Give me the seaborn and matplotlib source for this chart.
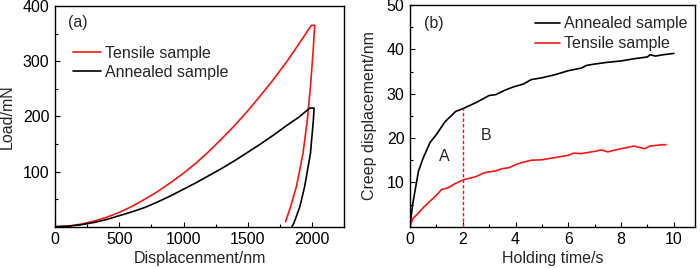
import numpy as np
import pandas as pd
import seaborn as sns
import matplotlib.pyplot as plt
from matplotlib.ticker import MultipleLocator

# --- (a) load vs displacement (loading, hold, unloading) ---
tens_disp = [0, 100, 200, 300, 400, 500, 600, 700, 800, 900, 1000, 1100, 1200, 1300,
             1400, 1500, 1600, 1700, 1800, 1900, 1995, 2021, 2008, 1988, 1964, 1930,
             1879, 1833, 1794]
tens_load = [0, 1, 4.5, 10, 17, 26, 37, 50, 64, 80, 97, 116, 137, 160,
             184, 210, 238, 267, 298, 332, 365, 365, 315, 254, 194, 133,
             73, 36, 9]

ann_disp = [0, 100, 200, 300, 400, 500, 600, 700, 800, 900, 1000, 1100, 1200, 1300,
            1400, 1500, 1600, 1700, 1800, 1900, 1982, 2016, 2011, 1988, 1943, 1905,
            1858, 1843]
ann_load = [0, 1, 3.5, 7.5, 13, 20, 27, 35, 45, 56, 68, 80, 93, 106,
            120, 135, 150, 166, 183, 199, 215, 215, 194, 133, 73, 36,
            6, 0]

# --- (b) creep displacement vs holding time ---
ann_time = [0, 0.1, 0.32, 0.5, 0.76, 1.0, 1.33, 1.73, 2.03, 2.5, 3.0, 3.25, 3.6, 3.9,
            4.3, 4.6, 5.0, 5.5, 6.0, 6.5, 6.7, 7.0, 7.5, 8.0, 8.5, 9.0, 9.1, 9.3, 9.6, 10.0]
ann_creep = [0, 5, 12.5, 15.5, 19, 20.8, 23.7, 26, 26.7, 28, 29.6, 29.8, 30.8, 31.5,
             32.2, 33.2, 33.6, 34.3, 35.2, 35.8, 36.4, 36.7, 37.1, 37.4, 37.9, 38.3, 38.8, 38.5, 38.8, 39.1]

tens_time = [0, 0.1, 0.32, 0.5, 0.82, 1.0, 1.2, 1.45, 1.7, 2.03, 2.5, 2.83, 3.25, 3.5,
             3.75, 4.0, 4.25, 4.6, 5.0, 5.5, 6.0, 6.2, 6.5, 7.0, 7.25, 7.5, 8.0, 8.5,
             8.75, 8.9, 9.1, 9.56, 9.7]
tens_creep = [0, 1.8, 3.1, 4.3, 6.1, 7.1, 8.4, 8.8, 9.7, 10.6, 11.3, 12.2, 12.6, 13.1,
              13.3, 14.0, 14.5, 15.0, 15.1, 15.6, 16.1, 16.6, 16.5, 17.0, 17.3, 16.9, 17.6, 18.2,
              17.8, 17.6, 18.2, 18.5, 18.5]

split_time = 2.0
split_top = 26.7

df_a = pd.concat([
    pd.DataFrame({'disp': tens_disp, 'load': tens_load, 'sample': 'Tensile sample'}),
    pd.DataFrame({'disp': ann_disp, 'load': ann_load, 'sample': 'Annealed sample'}),
])
df_b = pd.concat([
    pd.DataFrame({'t': ann_time, 'creep': ann_creep, 'sample': 'Annealed sample'}),
    pd.DataFrame({'t': tens_time, 'creep': tens_creep, 'sample': 'Tensile sample'}),
])
colors = {'Tensile sample': '#f01818', 'Annealed sample': 'black'}

sns.set_style('ticks')
plt.rcParams['font.family'] = ['Liberation Sans', 'DejaVu Sans']
plt.rcParams.update({
    'font.size': 11.5,
    'axes.edgecolor': 'black', 'axes.linewidth': 1.0,
    'xtick.color': 'black', 'ytick.color': 'black',
    'xtick.direction': 'in', 'ytick.direction': 'in',
    'xtick.major.size': 3.5, 'ytick.major.size': 3.5,
    'xtick.minor.size': 2, 'ytick.minor.size': 2,
    'xtick.major.width': 0.8, 'ytick.major.width': 0.8,
    'xtick.minor.width': 0.8, 'ytick.minor.width': 0.8,
    'xtick.major.pad': 4, 'ytick.major.pad': 4,
    'axes.labelpad': 3,
})

fig = plt.figure(figsize=(7, 2.68), dpi=100)
ax1 = fig.add_axes([0.0786, 0.154, 0.413, 0.8235])
ax2 = fig.add_axes([0.5857, 0.154, 0.407, 0.827])

# panel (a)
sns.lineplot(data=df_a, x='disp', y='load', hue='sample', palette=colors,
             sort=False, estimator=None, lw=1.2, ax=ax1)
ax1.set_xlim(0, 2250)
ax1.set_ylim(0, 400)
ax1.set_yticks([100, 200, 300, 400])
ax1.xaxis.set_major_locator(MultipleLocator(500))
ax1.xaxis.set_minor_locator(MultipleLocator(250))
ax1.yaxis.set_minor_locator(MultipleLocator(50))
ax1.set_xlabel('Displacenment/nm')
ax1.set_ylabel('Load/mN', labelpad=6)
ax1.text(181, 370, '(a)', ha='center', va='center')
ax1.legend(loc='upper left', bbox_to_anchor=(0.035, 0.855), frameon=False,
           handlelength=1.75, handletextpad=0.25, labelspacing=0.25, borderpad=0)

# panel (b)
sns.lineplot(data=df_b, x='t', y='creep', hue='sample', palette=colors,
             sort=False, estimator=None, lw=1.2, ax=ax2)
ax2.plot([split_time, split_time], [0, split_top], color='#f01818', lw=1.0, dashes=(2.5, 1.5))
ax2.set_xlim(0, 10.8)
ax2.set_ylim(0, 50)
ax2.set_yticks([10, 20, 30, 40, 50])
ax2.xaxis.set_major_locator(MultipleLocator(2))
ax2.xaxis.set_minor_locator(MultipleLocator(1))
ax2.yaxis.set_minor_locator(MultipleLocator(5))
ax2.set_xlabel('Holding time/s')
ax2.set_ylabel('Creep displacement/nm', labelpad=7)
ax2.text(0.91, 45.9, '(b)', ha='center', va='center')
ax2.text(1.31, 15.9, 'A', ha='center', va='center')
ax2.text(2.9, 20.5, 'B', ha='center', va='center')
ax2.legend(loc='upper left', bbox_to_anchor=(0.41, 0.985), frameon=False,
           handlelength=1.6, handletextpad=0.25, labelspacing=0.3, borderpad=0)

for ax in (ax1, ax2):
    ax.tick_params(which='both', top=False, right=False)

fig.savefig('out.png', dpi=100)
